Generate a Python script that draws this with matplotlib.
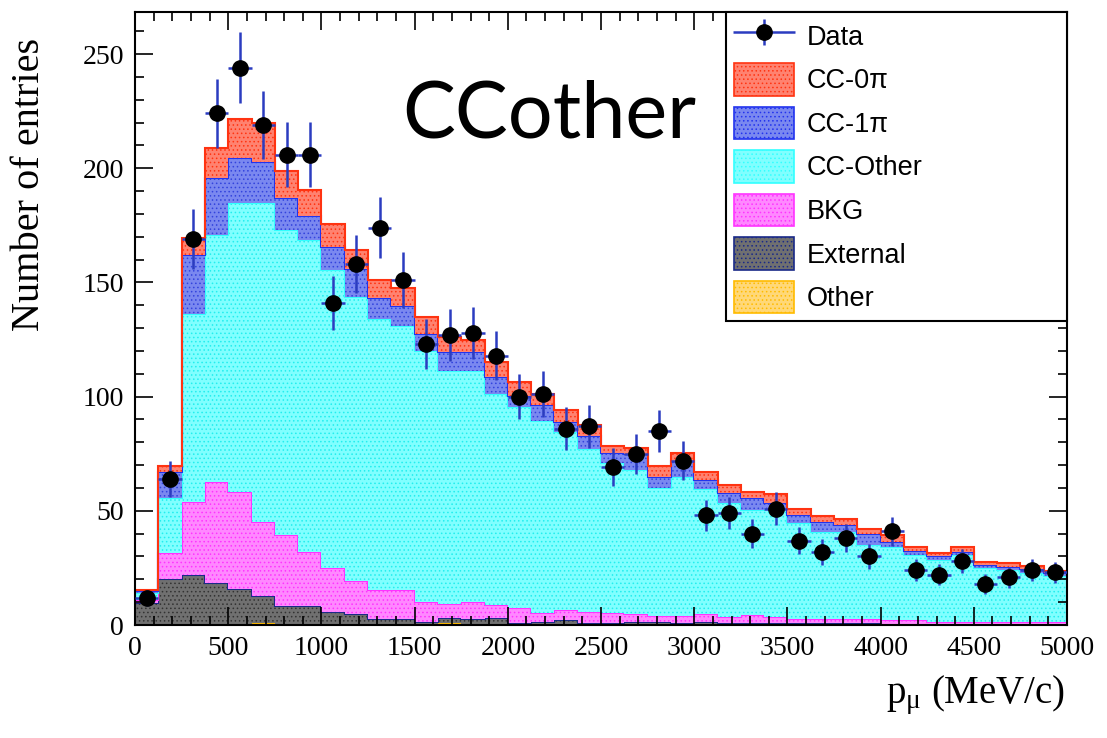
import numpy as np
import matplotlib.pyplot as plt
from matplotlib.patches import Patch
from matplotlib.ticker import MultipleLocator
from matplotlib.legend_handler import HandlerErrorbar
from matplotlib.container import ErrorbarContainer

plt.rcParams['font.family'] = ['Liberation Serif', 'DejaVu Serif']
plt.rcParams['mathtext.fontset'] = 'custom'
plt.rcParams['mathtext.rm'] = 'Liberation Serif'
plt.rcParams['mathtext.it'] = 'Liberation Serif:italic'
plt.rcParams['hatch.linewidth'] = 0.6

# binning: 40 bins of 125 MeV/c
edges = np.arange(0, 5001, 125)

data = np.array([12, 64, 169, 224, 244, 219, 206, 206, 141, 158,
                 174, 151, 123, 127, 128, 118, 100, 101, 86, 87,
                 69, 75, 85, 72, 48, 49, 40, 51, 37, 32,
                 38, 30, 41, 24, 22, 28, 18, 21, 24, 23])

# MC components (stacked from bottom to top)
other = np.array([0, 0, 0, 0, 0, 1.0, 0, 0, 0, 0,
                  0, 0, 0, 1.0, 0, 0, 0, 0, 0, 0,
                  0, 0, 0, 0, 0, 0, 0, 0, 0, 0,
                  0, 0, 0, 0, 0, 0, 0, 0, 0, 0])
external = np.array([9.5, 20, 22, 18.5, 15.6, 11.7, 8.5, 8.5, 5.8, 4.8,
                     2.6, 2.6, 1.5, 2.2, 2.5, 3.2, 1.0, 1.5, 2.2, 1.0,
                     0.7, 1.5, 1.5, 0.8, 1.5, 1.0, 1.0, 1.0, 0.7, 0.7,
                     0.7, 0.7, 0.5, 0.5, 0.5, 0.5, 0.5, 0.3, 0.3, 0.3])
bkg = np.array([1.5, 11.5, 31.8, 44.1, 42.7, 32.5, 30.9, 23.6, 19.2, 14.6,
                12.7, 12.7, 8.7, 6.0, 7.7, 5.6, 6.3, 3.6, 4.4, 4.8,
                4.4, 3.2, 2.4, 3.1, 3.2, 2.5, 3.4, 2.5, 1.8, 1.8,
                1.8, 1.8, 1.8, 1.5, 1.0, 1.0, 1.0, 0.9, 0.9, 0.9])
cc_other = np.array([2.8, 24.0, 82.2, 108.0, 126.7, 139.8, 133.6, 136.5, 130.5, 124.2,
                     118.5, 115.5, 109.8, 102.2, 101.2, 92.2, 88.0, 84.4, 77.8, 71.2,
                     65.9, 63.3, 56.3, 61.1, 54.8, 50.0, 46.1, 47.5, 42.0, 38.4,
                     38.4, 32.5, 32.0, 28.7, 27.0, 29.2, 23.3, 22.9, 21.7, 20.3])
cc_1pi = np.array([1.0, 11.5, 25.8, 25.0, 19.5, 17.7, 13.8, 10.4, 9.8, 12.4,
                   9.2, 8.7, 7.5, 8.3, 8.0, 7.5, 5.1, 6.9, 4.4, 5.9,
                   4.5, 7.0, 4.8, 7.0, 4.0, 4.1, 5.0, 2.5, 3.7, 4.4,
                   2.9, 4.9, 2.2, 1.9, 1.7, 1.4, 1.5, 1.2, 1.5, 1.1])
cc_0pi = np.array([0.5, 2.5, 7.6, 13.4, 17.0, 17.3, 12.2, 11.6, 10.2, 8.0,
                   8.0, 7.9, 7.5, 6.3, 5.6, 6.5, 5.9, 4.6, 5.5, 4.7,
                   3.0, 2.5, 4.5, 3.5, 3.5, 3.6, 2.7, 3.9, 2.5, 2.4,
                   2.5, 2.0, 2.9, 1.7, 1.5, 2.2, 1.4, 2.0, 1.4, 1.2])

# label, values, fill colour, hatch colour, outline colour
components = [
    ("Other",    other,    '#ffd878', '#ffbb00', '#ffbb00'),
    ("External", external, '#707070', '#333333', '#1a2a88'),
    ("BKG",      bkg,      '#ff88ff', '#ff33ff', '#ff33ff'),
    ("CC-Other", cc_other, '#80ffff', '#22eeee', '#33ffff'),
    ("CC-1pi",   cc_1pi,   '#7a88f0', '#3344dd', '#2233ee'),
    ("CC-0pi",   cc_0pi,   '#ff8270', '#ff3311', '#ff3311'),
]

fig = plt.figure(figsize=(11.07, 7.38), dpi=100)
ax = fig.add_axes([0.122, 0.1531, 0.8419, 0.8306])

bottom = np.zeros(len(data))
handles = {}
for name, vals, fc, hc, lc in components:
    top = bottom + vals
    ax.stairs(top, edges, baseline=bottom, fill=True, facecolor=fc,
              edgecolor=hc, hatch='....', linewidth=0)
    ax.stairs(top, edges, baseline=None, color=lc, linewidth=1.5)
    handles[name] = Patch(facecolor=fc, edgecolor=lc, hatch='....', linewidth=1.2)
    bottom = top

centers = 0.5 * (edges[:-1] + edges[1:])
err = ax.errorbar(centers, data, yerr=np.sqrt(data), xerr=62.5, fmt='o',
                  color='black', ms=11, ecolor='#2b3cc0', elinewidth=1.8,
                  capsize=0, zorder=5)

ax.set_xlim(0, 5000)
ax.set_ylim(0, 268.4)
ax.xaxis.set_major_locator(MultipleLocator(500))
ax.xaxis.set_minor_locator(MultipleLocator(100))
ax.yaxis.set_major_locator(MultipleLocator(50))
ax.yaxis.set_minor_locator(MultipleLocator(10))
ax.tick_params(which='both', direction='in', top=True, right=True,
               labelsize=20, width=1.2)
ax.tick_params(which='major', length=13, pad=8)
ax.tick_params(which='minor', length=6.5)
for s in ax.spines.values():
    s.set_linewidth(1.5)

fig.text(30 / 1107, 1 - 38 / 738, "Number of entries", rotation=90,
         ha='center', va='top', fontsize=29)
fig.text(1065 / 1107, 1 - 703 / 738, r"$\mathregular{p_{\mu}}$ (MeV/c)",
         ha='right', va='baseline', fontsize=28)

ax.text(402 / 1107, 1 - 138 / 738, "CCother", transform=fig.transFigure,
        family='Lato', fontsize=57, ha='left', va='baseline', zorder=6)

order = ["CC-0pi", "CC-1pi", "CC-Other", "BKG", "External", "Other"]
leg = ax.legend([err] + [handles[k] for k in order],
                ["Data", "CC-0\u03c0", "CC-1\u03c0", "CC-Other", "BKG", "External", "Other"],
                handler_map={ErrorbarContainer: HandlerErrorbar(xerr_size=1.13, yerr_size=0.48)},
                loc='upper left', bbox_to_anchor=(0.634, 0.0, 0.366, 1.0),
                mode='expand', borderaxespad=0, fancybox=False,
                edgecolor='black', framealpha=1,
                prop={'family': 'Liberation Sans', 'size': 19.5},
                handlelength=2.25, handleheight=1.48, labelspacing=0.4,
                borderpad=0.28, handletextpad=0.45)
leg.get_frame().set_linewidth(1.5)
leg.set_zorder(10)

fig.savefig("out.png", dpi=100)
